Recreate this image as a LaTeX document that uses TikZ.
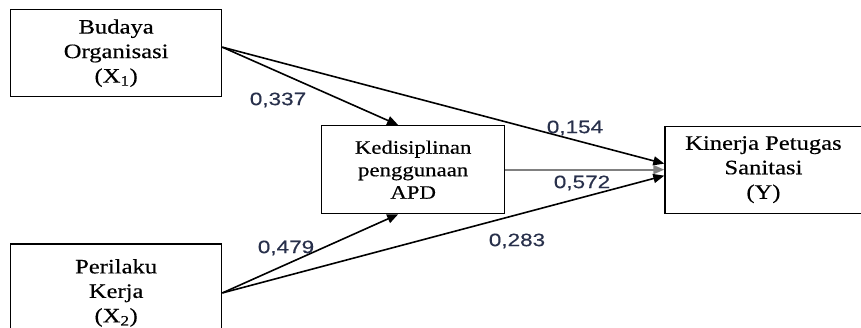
\documentclass[tikz,border=0pt]{standalone}
\usepackage{fontspec}
\newfontfamily\boxfont[FakeStretch=1.2, FakeBold=0.4]{Liberation Serif}
\newfontfamily\coeffont[FakeStretch=1.25, FakeBold=0.3]{Liberation Sans}
\usetikzlibrary{arrows.meta, positioning}
\definecolor{coefblue}{RGB}{40,48,75}

\begin{document}
\begin{tikzpicture}[
    x=1pt, y=-1pt,
    box/.style={draw, line width=1.3pt, align=center, inner sep=0pt, font=\boxfont\fontsize{20.5}{24.5}\selectfont},
    arrow/.style={-{Triangle[length=11pt, width=9pt]}, line width=1.6pt},
    coef/.style={text=coefblue, font=\coeffont\fontsize{18}{20}\selectfont, inner sep=0pt}
]
    \useasboundingbox (0,0) rectangle (861,327);
    \node[box, minimum width=211pt, minimum height=87pt, anchor=north west] (budaya) at (10,9) {Budaya\\Organisasi\\(X\textsubscript{1})};
    \node[box, minimum width=211pt, minimum height=98pt, below=146pt of budaya] (perilaku) {Perilaku\\Kerja\\(X\textsubscript{2})};
    \node[box, minimum width=183pt, minimum height=88pt, anchor=north west, font=\boxfont\fontsize{19}{22.5}\selectfont] (disiplin) at (321,125) {Kedisiplinan\\penggunaan\\APD};
    \node[box, minimum width=197pt, minimum height=87pt, right=159pt of disiplin] (kinerja) {Kinerja Petugas\\Sanitasi\\(Y)};

    \draw[arrow] ([yshift=6pt]budaya.east) -- ([xshift=-15pt]disiplin.north);
    \draw[arrow] ([yshift=6pt]budaya.east) -- ([yshift=6pt]kinerja.west);
    \draw[arrow, draw=gray, line width=2pt] (disiplin) -- (kinerja);
    \draw[arrow] (perilaku.east) -- ([xshift=-15pt]disiplin.south);
    \draw[arrow] (perilaku.east) -- ([yshift=-6pt]kinerja.west);

    % path coefficients
    \node[coef] (c337) at (278,100) {0,337};
    \node[coef] (c154) at (575,128) {0,154};
    \node[coef] (c572) at (582,183) {0,572};
    \node[coef] (c479) at (286,248) {0,479};
    \node[coef] (c283) at (517,241) {0,283};
\end{tikzpicture}
\end{document}
